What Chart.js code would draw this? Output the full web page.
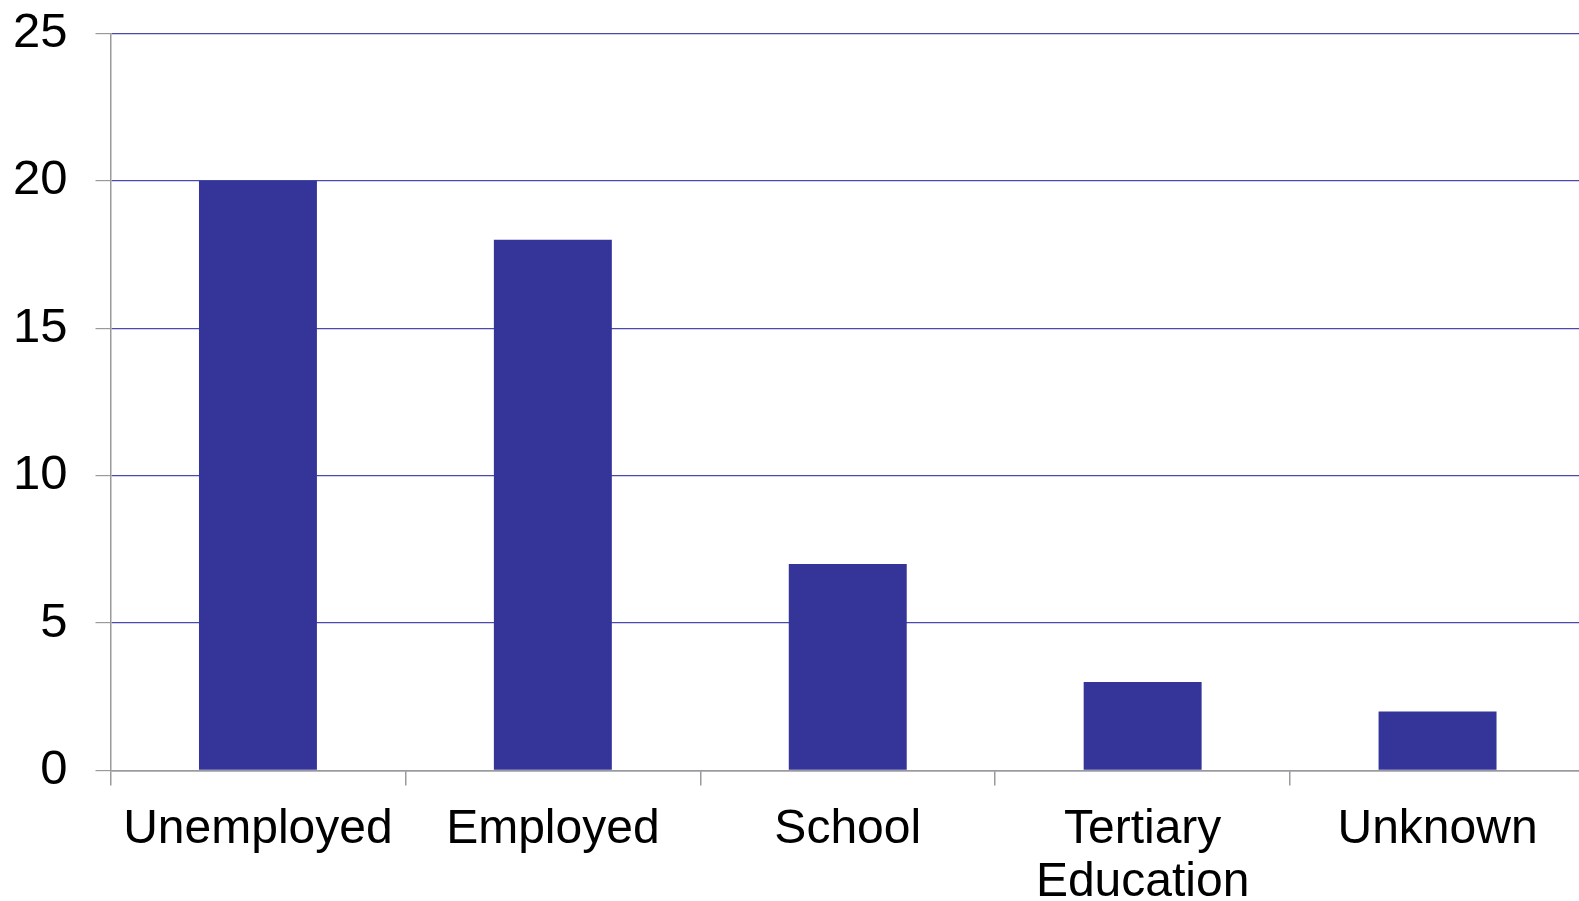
<!DOCTYPE html>
<html>
<head>
<meta charset="utf-8">
<script src="https://cdn.jsdelivr.net/npm/chart.js"></script>
<style>
  html, body { margin: 0; padding: 0; background: #fff; overflow: hidden; }
  body { width: 1579px; height: 901px; position: relative; }
  #wrap { position: absolute; left: -29px; top: -24px; width: 1614px; height: 951px; }
</style>
</head>
<body>
<div id="wrap"><canvas id="chart"></canvas></div>
<script>
const categories = ['Unemployed', 'Employed', 'School', ['Tertiary', 'Education'], 'Unknown'];
const counts = [20, 18, 7, 3, 2];
const yTicks = [0, 5, 10, 15, 20, 25];

const barColour = '#353599';
const gridColour = '#4a4aad';
const axisColour = '#9a9a9a';

new Chart(document.getElementById('chart'), {
  type: 'bar',
  data: {
    labels: categories,
    datasets: [
      {
        label: 'Count',
        backgroundColor: barColour,
        data: counts,
        barPercentage: 0.4,
        categoryPercentage: 1.0
      }
    ]
  },
  options: {
    responsive: true,
    maintainAspectRatio: false,
    animation: false,
    layout: { padding: { left: 14, top: 10, right: 0, bottom: 0 } },
    plugins: {
      legend: { display: false },
      tooltip: { enabled: false }
    },
    scales: {
      x: {
        offset: true,
        grid: {
          offset: true,
          drawOnChartArea: false,
          drawTicks: true,
          tickLength: 15,
          tickColor: axisColour,
          lineWidth: 1.5
        },
        border: { color: axisColour, width: 1.5 },
        ticks: {
          color: '#000',
          padding: 18,
          maxRotation: 0,
          autoSkip: false,
          font: { family: '"Liberation Sans", Arial, sans-serif', size: 48, lineHeight: 1.1 }
        }
      },
      y: {
        min: 0,
        max: 25,
        afterBuildTicks: axis => { axis.ticks = yTicks.map(v => ({ value: v })); },
        grid: {
          color: gridColour,
          lineWidth: 1.2,
          tickLength: 15,
          tickColor: axisColour
        },
        border: { color: axisColour, width: 1.5 },
        ticks: {
          color: '#000',
          padding: 28,
          font: { family: '"Liberation Sans", Arial, sans-serif', size: 49 }
        }
      }
    }
  }
});
</script>
</body>
</html>
